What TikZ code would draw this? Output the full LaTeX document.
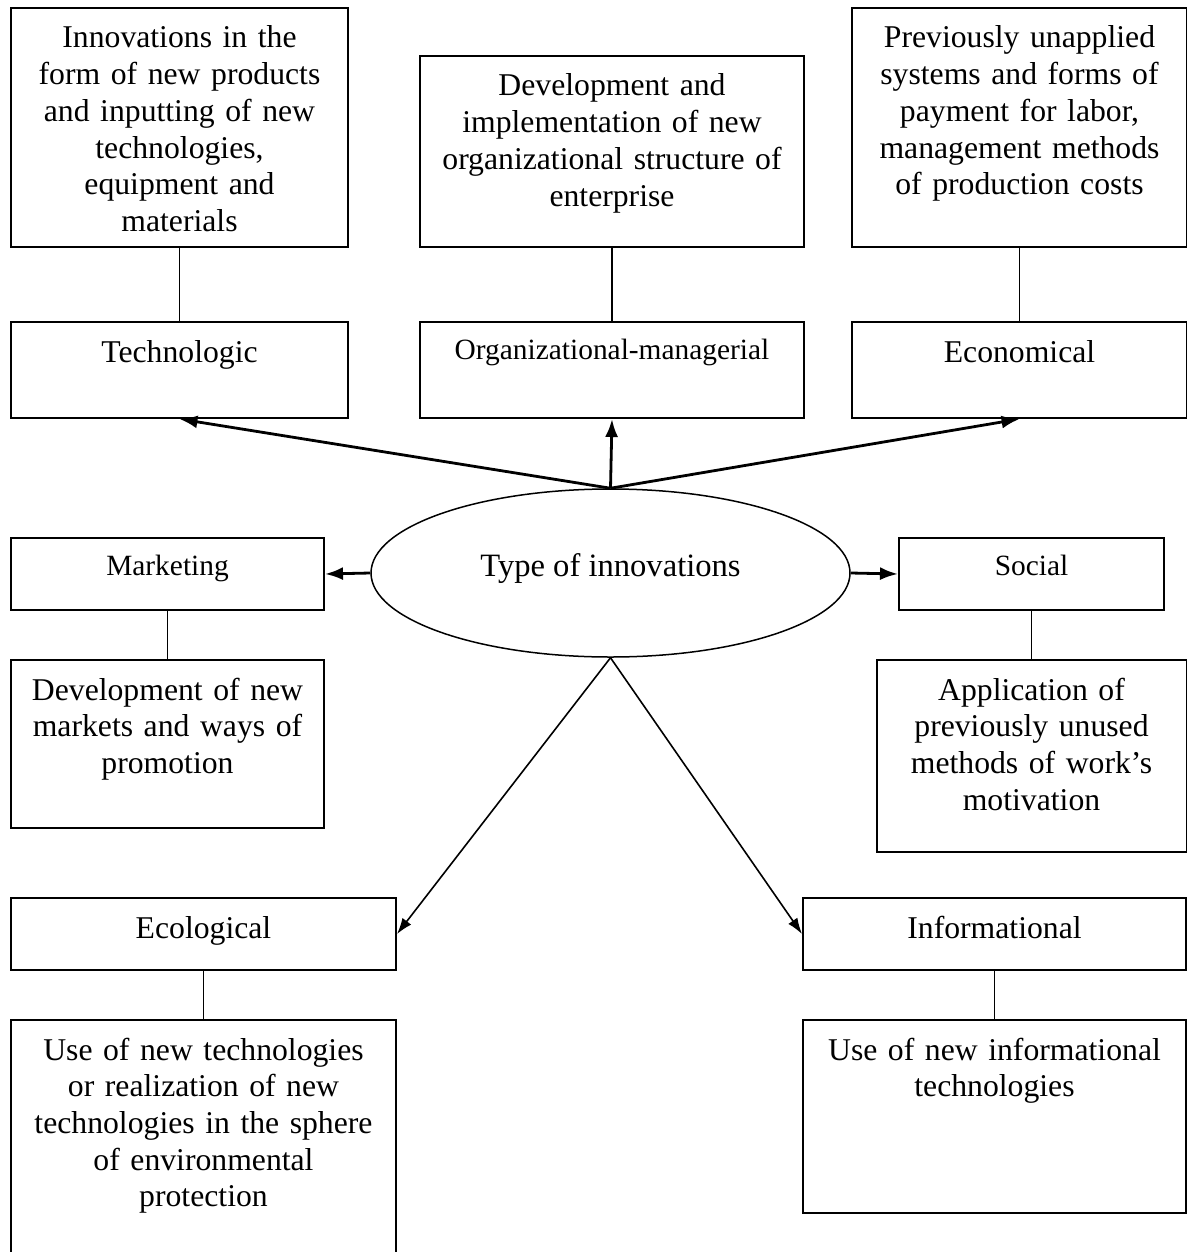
\documentclass[tikz,border=0pt]{standalone}
\usepackage{fontspec}
\setmainfont{Liberation Serif}
\usetikzlibrary{positioning,shapes.geometric,arrows.meta}
\tikzset{
    box/.style={draw, line width=1pt, inner sep=0pt, align=center, text height=20pt, font=\fontsize{15.85}{18.35}\selectfont},
    smallbox/.style={box, text height=18.5pt, font=\fontsize{14.7}{17}\selectfont},
    hub/.style={ellipse, draw, line width=0.75pt, minimum width=239.5pt, minimum height=84pt, text height=8pt, text depth=5pt, font=\fontsize{16.3}{19}\selectfont},
    link/.style={line width=0.75pt},
    arr/.style={-{Latex[length=9pt,width=6.5pt]}, line width=1.4pt},
    thinarr/.style={-{Latex[length=8pt,width=5.5pt]}, line width=0.8pt},
    node distance=24pt
}
\begin{document}
\begin{tikzpicture}[x=0.5pt, y=-0.5pt]
    \useasboundingbox (0,0) rectangle (1187,1252);
    \node[hub] (type) at (610.5,573) {Type of innovations};
    \node[box, anchor=north west, text width=168.5pt, text depth=28pt] (tech) at (10,321) {Technologic};
    \node[smallbox, anchor=north west, text width=192pt, text depth=29.5pt] (org) at (419,321) {Organizational-managerial};
    \node[box, anchor=north west, text width=167.5pt, text depth=28pt] (econ) at (851,321) {Economical};
    \node[box, above=36.5pt of tech, text width=168.5pt, text depth=99.5pt] (techd) {Innovations in the\\form of new products\\and inputting of new\\technologies,\\equipment and\\materials};
    \node[box, above=36.5pt of org, text width=192pt, text depth=75.5pt] (orgd) {Development and\\implementation of new\\organizational structure of\\enterprise};
    \node[box, above=36.5pt of econ, text width=167.5pt, text depth=99.5pt] (econd) {Previously unapplied\\systems and forms of\\payment for labor,\\management methods\\of production costs};
    \node[smallbox, anchor=north west, text width=156.5pt, text depth=17.5pt] (mark) at (10,537) {Marketing};
    \node[smallbox, anchor=north west, text width=132.5pt, text depth=17.5pt] (soc) at (898,537) {Social};
    \node[box, below=of mark, text width=156.5pt, text depth=64pt] (markd) {Development of new\\markets and ways of\\promotion};
    \node[box, below=of soc, text width=155pt, text depth=76pt] (socd) {Application of\\previously unused\\methods of work’s\\motivation};
    \node[box, anchor=north west, text width=192.5pt, text depth=16pt] (ecol) at (10,897) {Ecological};
    \node[box, anchor=north west, text width=191.5pt, text depth=16pt] (info) at (802,897) {Informational};
    \node[box, below=of ecol, text width=192.5pt, text depth=130pt] (ecold) {Use of new technologies\\or realization of new\\technologies in the sphere\\of environmental\\protection};
    \node[box, below=of info, text width=191.5pt, text depth=76.5pt] (infod) {Use of new informational\\technologies};

    \draw[link] (techd) -- (tech) (orgd) -- (org) (econd) -- (econ)
        (mark) -- (markd) (soc) -- (socd) (ecol) -- (ecold) (info) -- (infod);
    \draw
        (type.north) edge[arr] (tech.south) edge[arr] (org.south) edge[arr] (econ.south)
        (type.west) edge[arr] (mark.east)
        (type.east) edge[arr] (soc.west)
        (type.south) edge[thinarr] (ecol.east) edge[thinarr] (info.west);
\end{tikzpicture}
\end{document}
